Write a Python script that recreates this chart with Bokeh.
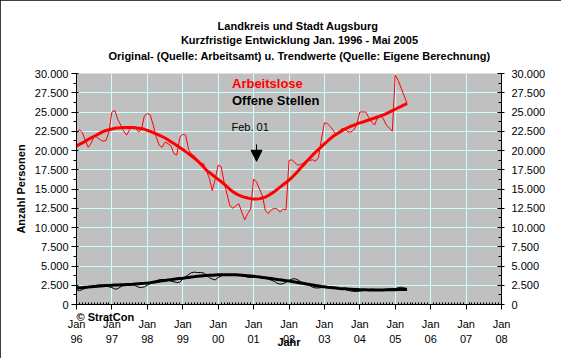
from bokeh.plotting import figure
from bokeh.models import Range1d, LinearAxis, FixedTicker, Label, Arrow, NormalHead
from bokeh.embed import file_html
from bokeh.resources import INLINE

# ---------------- data (monthly, Jan 1996 - May 2005) ----------------
start_year = 1996
arbeitslose = [
    22200, 22700, 22300, 21300, 20400, 21000, 21900, 21700, 21400, 21200, 21300, 22400,  # 1996
    25000, 25200, 24000, 23300, 22500, 22000, 22700, 23100, 23000, 22400, 22700, 24500,  # 1997
    24800, 24600, 23300, 21800, 20700, 20400, 21100, 20900, 20600, 19600, 19400, 21700,  # 1998
    22100, 22000, 20100, 19500, 19300, 18500, 18300, 18300, 17400, 16400, 14800, 16300,  # 1999
    18100, 17900, 15900, 14300, 12800, 12500, 12800, 13100, 12000, 11000, 11800, 12400,  # 2000
    16300, 15900, 15000, 14100, 12200, 11800, 12300, 12500, 12400, 12000, 12400, 12300,  # 2001
    18700, 18800, 18400, 18100, 18200, 18400, 18700, 18700, 18800, 18600, 19100, 21500,  # 2002
    23600, 23500, 23100, 22600, 22000, 22300, 22900, 22800, 22400, 22400, 22700, 23400,  # 2003
    25000, 25000, 25000, 24300, 23700, 23300, 24300, 24600, 24100, 23300, 22900, 22500,  # 2004
    29800, 29100, 28100, 27100, 26100,                                                    # 2005
]
arbeitslose_trend = [
    20600, 20800, 21000, 21200, 21450, 21650, 21850, 22050, 22250, 22450, 22600, 22700,
    22800, 22880, 22930, 22960, 22980, 23000, 23000, 22980, 22950, 22900, 22850, 22750,
    22620, 22480, 22330, 22170, 22000, 21820, 21620, 21400, 21150, 20900, 20650, 20400,
    20130, 19850, 19570, 19280, 18980, 18670, 18300, 17900, 17450, 17150, 16850, 16550,
    16250, 15950, 15650, 15300, 14950, 14650, 14400, 14200, 14050, 13920, 13830, 13750,
    13700, 13700, 13750, 13830, 13950, 14150, 14400, 14650, 14950, 15250, 15550, 15850,
    16150, 16500, 16900, 17300, 17750, 18150, 18600, 19000, 19400, 19800, 20150, 20500,
    20850, 21200, 21550, 21850, 22100, 22350, 22580, 22800, 22980, 23150, 23300, 23450,
    23580, 23700, 23830, 23960, 24090, 24220, 24350, 24480, 24620, 24800, 24980, 25170,
    25360, 25550, 25740, 25930, 26100,
]
offene_stellen = [
    1900, 1800, 1950, 2100, 2200, 2300, 2400, 2500, 2550, 2500, 2450, 2300,
    2200, 2000, 2050, 2300, 2500, 2600, 2700, 2600, 2450, 2250, 2200, 2300,
    2500, 2700, 2900, 3100, 3200, 3250, 3200, 3150, 3050, 2950, 2850, 2900,
    3300, 3600, 3900, 4150, 4200, 4150, 4150, 4100, 3850, 3500, 3300, 3200,
    3500, 3700, 3850, 3900, 3900, 3850, 3850, 3800, 3750, 3650, 3550, 3520,
    3550, 3600, 3600, 3550, 3450, 3300, 3150, 3000, 2750, 2650, 2700, 2900,
    3100, 3300, 3350, 3200, 2950, 2800, 2700, 2500, 2250, 2150, 2150, 2200,
    2200, 2250, 2200, 2150, 2100, 2050, 2000, 1950, 1850, 1750, 1700, 1700,
    1750, 1800, 1900, 1950, 2000, 1950, 1850, 1800, 1900, 1950, 2000, 2050,
    2050, 2200, 2250, 2150, 2100,
]
offene_stellen_trend = [
    2150, 2180, 2210, 2250, 2280, 2320, 2350, 2380, 2410, 2440, 2460, 2480,
    2500, 2520, 2540, 2560, 2580, 2600, 2610, 2630, 2660, 2690, 2720, 2750,
    2790, 2840, 2900, 2960, 3020, 3080, 3130, 3180, 3230, 3280, 3330, 3380,
    3420, 3470, 3520, 3570, 3620, 3660, 3700, 3730, 3760, 3790, 3810, 3830,
    3850, 3860, 3870, 3870, 3870, 3860, 3850, 3830, 3800, 3770, 3740, 3700,
    3660, 3620, 3570, 3520, 3470, 3420, 3370, 3310, 3260, 3200, 3150, 3100,
    3050, 2990, 2930, 2860, 2790, 2720, 2650, 2590, 2530, 2470, 2410, 2350,
    2300, 2250, 2210, 2170, 2130, 2090, 2060, 2030, 2000, 1980, 1960, 1940,
    1920, 1910, 1900, 1890, 1880, 1880, 1880, 1880, 1890, 1900, 1910, 1920,
    1930, 1940, 1950, 1950, 1960,
]
year_ticks = [1996, 1997, 1998, 1999, 2000, 2001, 2002, 2003, 2004, 2005, 2006, 2007, 2008]
month_labels = ["Jan"] * len(year_ticks)
year_labels = ["96", "97", "98", "99", "00", "01", "02", "03", "04", "05", "06", "07", "08"]
y_ticks = [0, 2500, 5000, 7500, 10000, 12500, 15000, 17500, 20000, 22500, 25000, 27500, 30000]
y_labels = ["0", "2.500", "5.000", "7.500", "10.000", "12.500", "15.000", "17.500",
            "20.000", "22.500", "25.000", "27.500", "30.000"]
title_lines = ["Landkreis  und Stadt Augsburg",
               "Kurzfristige Entwicklung Jan. 1996 - Mai 2005",
               "Original- (Quelle: Arbeitsamt) u. Trendwerte (Quelle: Eigene Berechnung)"]
series_names = ["Arbeitslose", "Offene Stellen"]
marker_month = 2001 + 1 / 12  # Feb. 01

x = [start_year + i / 12 for i in range(len(arbeitslose))]

FONT = "Liberation Sans"

p = figure(width=561, height=358, x_range=Range1d(1996, 2008), y_range=Range1d(0, 30000),
           output_backend="svg", toolbar_location=None, title=None,
           min_border_left=76, min_border_right=60, min_border_top=73, min_border_bottom=54,
           background_fill_color="#C0C0C0", border_fill_color="white",
           outline_line_color=None)
p.styles = {"outline": "1px solid black", "outline-offset": "-1px"}

# grid
p.xgrid.grid_line_color = "#CCFFFF"
p.ygrid.grid_line_color = "#CCFFFF"

minor_x = [start_year + i / 12 for i in range(12 * 12 + 1) if i % 12 != 0]
minor_y = [t + 1250 for t in y_ticks[:-1]]

# bottom axis 1: "Jan"
xa = p.below[0]
xa.ticker = FixedTicker(ticks=year_ticks, minor_ticks=minor_x)
xa.major_label_overrides = {t: l for t, l in zip(year_ticks, month_labels)}
xa.major_tick_out = 5
xa.major_tick_in = 0
xa.minor_tick_in = 2
xa.minor_tick_out = 0
xa.major_label_standoff = 8
p.xgrid.ticker = FixedTicker(ticks=year_ticks)

# bottom axis 2: years (+ axis title "Jahr")
xa2 = LinearAxis(ticker=FixedTicker(ticks=year_ticks, minor_ticks=[]),
                 major_label_overrides={t: l for t, l in zip(year_ticks, year_labels)},
                 major_tick_out=0, major_tick_in=0, minor_tick_out=0, minor_tick_in=0,
                 axis_line_color=None, major_label_standoff=2,
                 axis_label="Jahr", axis_label_standoff=-10)
p.add_layout(xa2, "below")

# left axis
ya = p.left[0]
ya.ticker = FixedTicker(ticks=y_ticks, minor_ticks=minor_y)
ya.major_label_overrides = {t: l for t, l in zip(y_ticks, y_labels)}
ya.major_tick_out = 5
ya.major_tick_in = 2
ya.minor_tick_out = 3
ya.minor_tick_in = 0
ya.major_label_standoff = 3
ya.axis_label = "Anzahl Personen"
ya.axis_label_standoff = 5
p.ygrid.ticker = FixedTicker(ticks=y_ticks)

# right axis
ya2 = LinearAxis(ticker=FixedTicker(ticks=y_ticks, minor_ticks=minor_y),
                 major_label_overrides={t: l for t, l in zip(y_ticks, y_labels)},
                 major_tick_out=3, major_tick_in=4, minor_tick_out=0, minor_tick_in=3,
                 major_label_standoff=7)
p.add_layout(ya2, "right")

for ax in [xa, xa2, ya, ya2]:
    ax.major_label_text_font = FONT
    ax.major_label_text_font_size = "11px"
    ax.major_label_text_color = "black"
    ax.axis_label_text_font = FONT
    ax.axis_label_text_font_size = "11px"
    ax.axis_label_text_font_style = "bold"
    ax.axis_label_text_color = "black"
    ax.major_tick_line_color = "black"
    ax.minor_tick_line_color = "black"
    ax.axis_line_color = "black"
xa2.axis_line_color = None

# series
p.line(x, arbeitslose, line_color="#FF0000", line_width=1)
p.line(x, offene_stellen, line_color="black", line_width=1)
p.line(x, arbeitslose_trend, line_color="#FF0000", line_width=3)
p.line(x, offene_stellen_trend, line_color="black", line_width=3)

# copyright note: side-panel label (closest to the frame), drawn just below the frame
p.add_layout(Label(x=0, y=-243, x_units="screen", y_units="screen", text="\u00a9 StratCon",
                   text_font=FONT, text_font_size="11px", text_font_style="bold",
                   text_color="black", text_baseline="middle"), "above")

# title lines: one side-panel label each, stacked outward from the frame
panel_h = 12
for i, (txt, yc) in enumerate(zip(reversed(title_lines), [55.5, 39.5, 25.0])):
    panel_bottom = 73 - (i + 1) * panel_h
    p.add_layout(Label(x=223, y=panel_bottom - yc, x_units="screen", y_units="screen",
                       text=txt, text_font=FONT, text_font_size="11px",
                       text_font_style="bold", text_color="black",
                       text_align="center", text_baseline="middle"), "above")

# legend-like labels
p.add_layout(Label(x=155.5, y=221, x_units="screen", y_units="screen", text=series_names[0],
                   text_font=FONT, text_font_size="13px", text_font_style="bold",
                   text_color="#FF0000", text_baseline="middle"))
p.add_layout(Label(x=155.5, y=204, x_units="screen", y_units="screen", text=series_names[1],
                   text_font=FONT, text_font_size="13px", text_font_style="bold",
                   text_color="black", text_baseline="middle"))

# annotation Feb. 01
p.add_layout(Label(x=155, y=178, x_units="screen", y_units="screen", text="Feb. 01",
                   text_font=FONT, text_font_size="11px", text_color="black",
                   text_baseline="middle"))
p.add_layout(Arrow(x_start=marker_month, y_start=20800, x_end=marker_month, y_end=18600,
                   line_color="black", line_width=1,
                   end=NormalHead(size=11, fill_color="black", line_color="black")))

open("out.html", "w").write(file_html(p, INLINE))
